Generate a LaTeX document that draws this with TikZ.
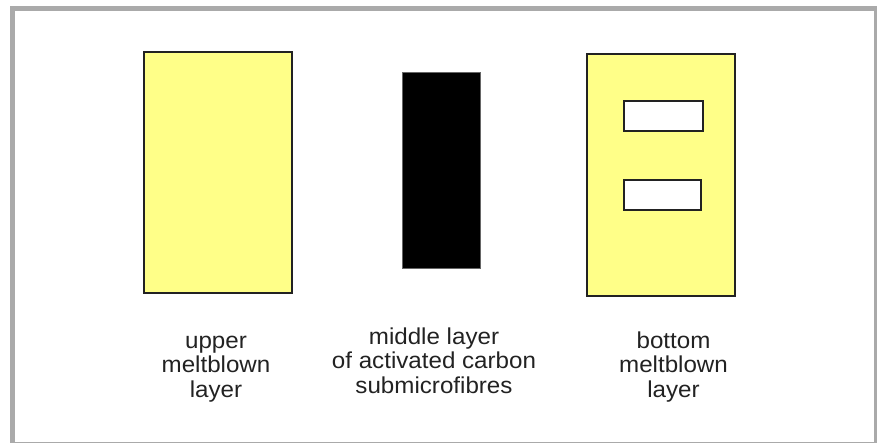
\documentclass[tikz,border=0pt]{standalone}
\usepackage{fontspec}
\setmainfont[FakeStretch=1.05]{Liberation Sans}
\usetikzlibrary{positioning}

\definecolor{frame}{HTML}{AAAAAA}
\definecolor{melt}{HTML}{FFFF88}
\definecolor{ink}{HTML}{222222}

\tikzset{
  layerbox/.style={draw=ink, line width=2pt, rectangle, inner sep=0pt},
  slotbox/.style={draw=ink, line width=2pt, fill=white, rectangle, inner sep=0pt, minimum height=30pt},
  caption/.style={align=center, text=ink, inner sep=0pt, font=\fontsize{23}{24.5}\selectfont}
}

\begin{document}
\begin{tikzpicture}[x=1pt, y=-1pt]
\useasboundingbox (0,0) rectangle (877,443);
\clip (0,0) rectangle (877,443);
\draw[frame, line width=5pt] (12.5,8.5) rectangle (876.5,444.5);

\node[layerbox, fill=melt, minimum width=148pt, minimum height=241pt] (upper) at (218,172.5) {};
\node[layerbox, fill=black, draw=black!60, line width=1pt, minimum width=78pt, minimum height=196pt] (middle) at (441,171) {};
\node[layerbox, fill=melt, minimum width=148pt, minimum height=242pt] (bottom) at (661,175) {};
\node[slotbox, minimum width=79pt] (slot0) at (663.5,116) {};
\node[slotbox, minimum width=77pt] (slot1) at (662.5,195) {};

\node[caption, anchor=base] (uppertext) at (216,397) {upper\\meltblown\\layer};
\node[caption, anchor=base] (middletext) at (434,393) {middle layer\\of activated carbon\\submicrofibres};
\node[caption, anchor=base] (bottomtext) at (673.5,397) {bottom\\meltblown\\layer};
\end{tikzpicture}
\end{document}
